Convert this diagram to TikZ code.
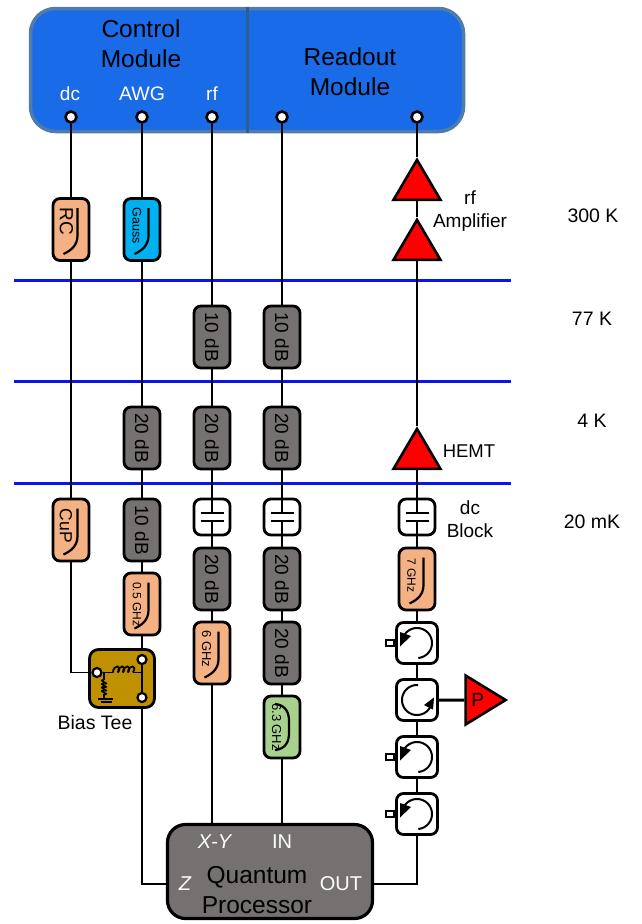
\documentclass[tikz,border=0pt]{standalone}
\usepackage{fontspec}
\setmainfont{Liberation Sans}
\usetikzlibrary{positioning, shapes.geometric, calc}
\definecolor{modBlue}{HTML}{1A6BE8}
\definecolor{modEdge}{HTML}{4F7CAC}
\definecolor{modDiv}{HTML}{2C5F8F}
\definecolor{stageBlue}{HTML}{0A14F0}
\definecolor{filtOrange}{HTML}{F4B183}
\definecolor{filtCyan}{HTML}{00B0F0}
\definecolor{filtGreen}{HTML}{A9D18E}
\definecolor{attGrey}{HTML}{767171}
\definecolor{teeGold}{HTML}{BF9000}
\newcommand{\fs}[1]{\fontsize{#1}{1.22\dimexpr#1pt\relax}\selectfont}
\tikzset{
  every node/.style={font=\fs{19}},
  wire/.style={line width=1.8pt},
  thickwire/.style={line width=3pt},
  stage/.style={stageBlue, line width=3pt},
  box/.style={draw, line width=2.8pt, rounded corners=7pt, inner sep=0pt},
  filt/.style={box, fill=filtOrange, minimum width=36pt, minimum height=62pt},
  atten/.style={box, fill=attGrey, rotate=-90, minimum width=62pt, minimum height=36pt},
  capbox/.style={box, fill=white, minimum width=36pt, minimum height=36pt},
  circbox/.style={box, fill=white, minimum width=41pt, minimum height=41pt},
  stub/.style={draw, fill=white, line width=2pt, minimum width=8pt, minimum height=6pt, inner sep=0pt},
  port/.style={draw, circle, fill=white, line width=2.6pt, minimum size=11pt, inner sep=0pt},
  amp/.style={draw, fill=red, line width=2.6pt, isosceles triangle, isosceles triangle stretches,
    shape border rotate=90, minimum width=47pt, minimum height=40pt, inner sep=0pt},
  filtlabel/.style={rotate=-90, inner sep=0pt},
  lowpass/.pic={\draw[line width=2.2pt] (6.5,-21.5) -- (6.5,6) .. controls (6.5,16) and (0,21) .. (-7.5,24.5);},
  bandpass/.pic={\draw[line width=2.2pt] (-7,-23) .. controls (4,-22) and (7,-14) .. (7,-6) -- (7,6)
    .. controls (7,14) and (4,22) .. (-7,23);},
  capsym/.pic={
    \draw[line width=2.4pt] (-11.5,-4) -- (11.5,-4) (-11.5,4) -- (11.5,4);
    \draw[wire] (0,-18) -- (0,-4) (0,4) -- (0,18);},
  circleft/.pic={
    \draw[line width=2pt] plot[smooth, samples=40, domain=85:-150] ({15*cos(\x)},{15*sin(\x)});
    \fill (-17,-11) -- (-17,3.5) -- (-6,-7) -- cycle;},
  circright/.pic={
    \draw[line width=2pt] plot[smooth, samples=40, domain=-86:-335] ({15*cos(\x)},{15*sin(\x)});
    \fill (17,-2.5) -- (7,5) -- (16,9.5) -- cycle;},
}
\begin{document}
\begin{tikzpicture}[x=1pt, y=-1pt]
  \useasboundingbox (0,0) rectangle (641,924);
  % stage lines
  \coordinate (s1l) at (14,280);
  \coordinate (s1r) at (511,280);
  \coordinate (s2l) at (14,381);
  \coordinate (s2r) at (511,381);
  \coordinate (s3l) at (14,483);
  \coordinate (s3r) at (511,483);
  \draw[stage] (s1l) -- (s1r);
  \draw[stage] (s2l) -- (s2r);
  \draw[stage] (s3l) -- (s3r);
  \node[font=\fs{19.5}] (t300) at (593,216) {300 K};
  \node[font=\fs{19.5}] (t77) at (592,319) {77 K};
  \node[font=\fs{19.5}] (t4) at (592,421) {4 K};
  \node[font=\fs{19.5}] (t20) at (592,522) {20 mK};
  % modules
  \node[draw=modEdge, fill=modBlue, line width=3.5pt, rounded corners=25pt, minimum width=433pt, minimum height=123pt] (mod) at (247,70) {};
  \draw[modDiv, line width=3pt] (mod.north) -- (mod.south);
  \node[font=\fs{24.5}, align=center] (ctl) at (141,43.5) {Control\\Module};
  \node[font=\fs{24.5}, align=center] (rdo) at (350,71.5) {Readout\\Module};
  \node[text=white] (ldc) at (70,94) {dc};
  \node[text=white, font=\fs{19.5}] (lawg) at (142,94) {AWG};
  \node[text=white] (lrf) at (212,94) {rf};
  \node[port] (pdc) at (71,117) {};
  \node[port] (pawg) at (142,117) {};
  \node[port] (prf) at (212,117) {};
  \node[port] (pin) at (282,117) {};
  \node[port] (pout) at (417,117) {};
  % dc line
  \node[filt] (rc) at (71,229.5) {};
  \node[filtlabel] (lrc) at (66.5,221) {RC};
  \pic at (rc) {lowpass};
  \node[filt] (cup) at (71,530) {};
  \node[filtlabel, font=\fs{17.5}] (lcup) at (66,526) {CuP};
  \pic at (cup) {lowpass};
  % awg line
  \node[filt, fill=filtCyan] (gs) at (142,229.5) {};
  \node[filtlabel, font=\fs{12.5}] (lgs) at (137,225.5) {Gauss};
  \pic at (gs) {lowpass};
  \node[atten] (a20a) at (142,438) {20 dB};
  \node[atten] (a10a) at (142,530) {10 dB};
  \node[filt] (f05) at (142,604) {};
  \node[filtlabel, font=\fs{12}] (lf05) at (137,604) {0.5 GHz};
  \pic at (f05) {lowpass};
  % rf line
  \node[atten] (a10b) at (212,337) {10 dB};
  \node[atten] (a20b) at (212,438) {20 dB};
  \node[capbox] (capa) at (212,517) {};
  \pic at (capa) {capsym};
  \node[atten] (a20c) at (212,579) {20 dB};
  \node[filt] (f6) at (212,653) {};
  \node[filtlabel, font=\fs{13}] (lf6) at (206.5,649) {6 GHz};
  \pic at (f6) {lowpass};
  % input line
  \node[atten] (a10c) at (282,337) {10 dB};
  \node[atten] (a20d) at (282,438) {20 dB};
  \node[capbox] (capb) at (282,517) {};
  \pic at (capb) {capsym};
  \node[atten] (a20e) at (282,579) {20 dB};
  \node[atten] (a20f) at (282,653) {20 dB};
  \node[filt, fill=filtGreen] (f63) at (282,727) {};
  \node[filtlabel, font=\fs{13}] (lf63) at (276.5,727) {6.3 GHz};
  \pic at (f63) {bandpass};
  % output line
  \node[amp, anchor=apex] (amp1) at (417,156.5) {};
  \node[amp, anchor=apex] (amp2) at (417,216.5) {};
  \node[amp, anchor=apex] (hemt) at (417,425.5) {};
  \node[align=center] (lamp) at (470,211) {rf\\Amplifier};
  \node[font=\fs{18.5}] (lhemt) at (469,451) {HEMT};
  \node[capbox] (capc) at (417,517) {};
  \pic at (capc) {capsym};
  \node[align=center] (ldcb) at (470,519.5) {dc\\Block};
  \node[filt] (f7) at (417,579) {};
  \node[filtlabel, font=\fs{12}] (lf7) at (411.5,575) {7 GHz};
  \pic at (f7) {lowpass};
  \node[circbox] (c1) at (417,643) {};
  \pic at (c1) {circleft};
  \node[stub, anchor=east] (st1) at (c1.west) {};
  \node[circbox] (c2) at (417,700) {};
  \pic at (c2) {circright};
  \node[circbox] (c3) at (417,757) {};
  \pic at (c3) {circleft};
  \node[stub, anchor=east] (st3) at (c3.west) {};
  \node[circbox] (c4) at (417,814) {};
  \pic at (c4) {circleft};
  \node[stub, anchor=east] (st4) at (c4.west) {};
  \node[amp, shape border rotate=0, anchor=apex, minimum width=49pt] (load) at (509,700) {P};
  % bias tee
  \node[box, fill=teeGold, minimum width=65pt, minimum height=58pt, rounded corners=9pt] (tee) at (122,678.5) {};
  \coordinate (teel) at (89,672.5);
  \node[port, minimum size=9pt, line width=2.2pt] (tp1) at (97,672.5) {};
  \node[port, minimum size=9pt, line width=2.2pt] (tp2) at (142,659.5) {};
  \node[port, minimum size=9pt, line width=2.2pt] (tp3) at (142,697.5) {};
  \draw[wire] (tp2) -- (tp3);
  \draw[wire] (tp1) -- (113,672.5);
  \foreach \i in {0,...,3}
    \draw[line width=1.8pt] ($(113,672.5)+(\i*5,0)$) .. controls +(0,-8) and +(5,-8) .. +(5,0);
  \draw[wire] (133,672.5) -- (142,672.5);
  \draw[wire] (104,672.5) -- (104,680);
  \foreach \i in {0,...,3}
    \draw[line width=1.8pt] ($(104,680)+(0,\i*3.5)$) .. controls +(-7,0) and +(7,1) .. +(0,3.5);
  \draw[wire] (104,694) -- (104,698.5);
  \draw[line width=2pt] (98,698.5) -- (113,698.5);
  \draw[line width=2pt] (101,702) -- (112,702);
  \node[font=\fs{19.5}] (ltee) at (95,723) {Bias Tee};
  % processor
  \node[box, fill=attGrey, line width=3.2pt, rounded corners=18pt, minimum width=205pt, minimum height=94pt] (qp) at (270,871.5) {};
  \node[text=white, font=\fs{20}\itshape] (lxy) at (214.5,842) {X-Y};
  \node[text=white, font=\fs{20}] (lin) at (282,842) {IN};
  \node[text=white, font=\fs{20}\itshape] (lz) at (185,884) {Z};
  \node[text=white, font=\fs{20}] (lo) at (341,884) {OUT};
  \node[font=\fs{24.5}, align=center] (lqp) at (257,890) {Quantum\\Processor};
  % wires
  \draw[wire] (pdc) -- (rc);
  \draw[wire] (rc) -- (cup);
  \draw[wire] (cup) |- (teel);
  \draw[wire] (pawg) -- (gs);
  \draw[wire] (gs) -- (a20a);
  \draw[wire] (a20a) -- (a10a);
  \draw[wire] (a10a) -- (f05);
  \draw[wire] (f05) -- (f05 |- tee.north);
  \draw[wire] (f05 |- tee.south) |- (lz -| qp.west);
  \draw[wire] (prf) -- (a10b);
  \draw[wire] (a10b) -- (a20b);
  \draw[wire] (a20b) -- (capa);
  \draw[wire] (capa) -- (a20c);
  \draw[wire] (a20c) -- (f6);
  \draw[wire] (f6) -- (f6 |- qp.north);
  \draw[wire] (pin) -- (a10c);
  \draw[wire] (a10c) -- (a20d);
  \draw[wire] (a20d) -- (capb);
  \draw[wire] (capb) -- (a20e);
  \draw[wire] (a20e) -- (a20f);
  \draw[wire] (a20f) -- (f63);
  \draw[wire] (f63) -- (f63 |- qp.north);
  \draw[wire] (pout) -- (amp1);
  \draw[wire] (amp1) -- (amp2);
  \draw[wire] (amp2) -- (hemt);
  \draw[wire] (hemt) -- (capc);
  \draw[wire] (capc) -- (f7);
  \draw[wire] (f7) -- (c1);
  \draw[wire] (c1) -- (c2);
  \draw[wire] (c2) -- (c3);
  \draw[wire] (c3) -- (c4);
  \draw[wire] (lo -| qp.east) -| (c4);
  \draw[thickwire] (c2) -- (load);
\end{tikzpicture}
\end{document}
